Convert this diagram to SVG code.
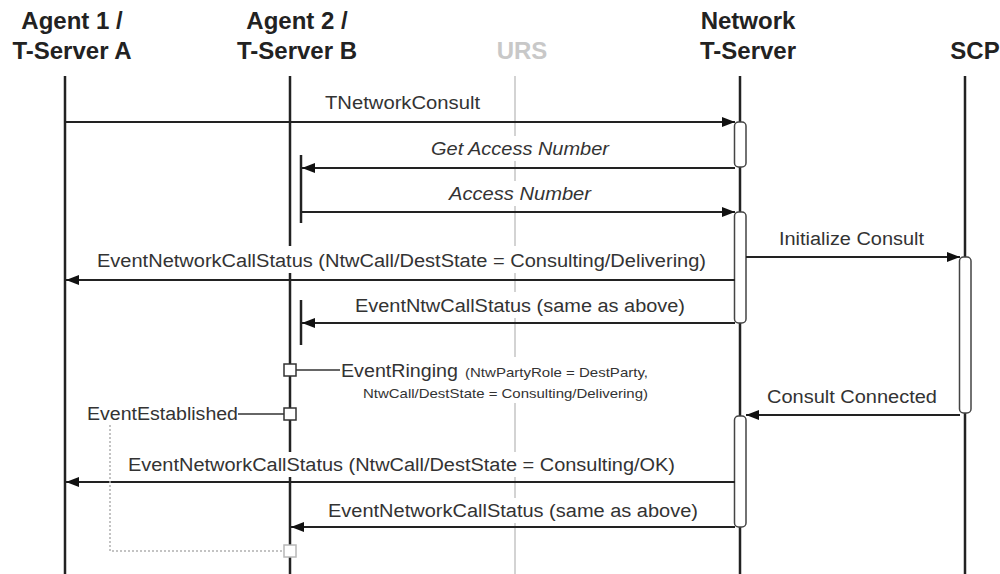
<svg xmlns="http://www.w3.org/2000/svg" width="1000" height="574" viewBox="0 0 1000 574">
<style>
.hdr{font-family:"Liberation Sans",Arial,sans-serif;font-weight:bold;font-size:24px;fill:#222;text-anchor:middle}
.urs{fill:#c8c8c8}
.life{stroke:#222;stroke-width:2.5;fill:none}
.lifeurs{stroke:#c4c4c4;stroke-width:1.5;fill:none}
.msg{font-family:"Liberation Sans",Arial,sans-serif;font-size:18px;fill:#333}
.it{font-style:italic}
.sm{font-family:"Liberation Sans",Arial,sans-serif;font-size:13px;fill:#333}
.arr{stroke:#222;stroke-width:2;fill:none;marker-end:url(#ah)}
.act{fill:#fff;stroke:#444;stroke-width:1.5}
.bar{stroke:#222;stroke-width:2.5}
.bg{fill:#fff}
.sq{fill:#fff;stroke:#333;stroke-width:1.5}
.ln{stroke:#333;stroke-width:1.5}
.dot{stroke:#b0b0b0;stroke-width:1.5;stroke-dasharray:2 2;fill:none}
</style>
<defs>
<marker id="ah" markerUnits="userSpaceOnUse" markerWidth="13" markerHeight="10" refX="13" refY="5" orient="auto">
<path d="M0,0 L13,5 L0,10 z" fill="#111"/>
</marker>
</defs>

<g id="agent1">
<text class="hdr" x="72" y="29">Agent 1 /</text>
<text class="hdr" x="72" y="59">T-Server A</text>
<line class="life" x1="65" y1="76" x2="65" y2="574"/>
</g>
<g id="agent2">
<text class="hdr" x="297" y="29">Agent 2 /</text>
<text class="hdr" x="297" y="59">T-Server B</text>
<line class="life" x1="290" y1="76" x2="290" y2="574"/>
</g>
<g id="urs">
<text class="hdr urs" x="522" y="59">URS</text>
<line class="lifeurs" x1="515" y1="76" x2="515" y2="574"/>
</g>
<g id="network">
<text class="hdr" x="748" y="29">Network</text>
<text class="hdr" x="748" y="59">T-Server</text>
<line class="life" x1="740" y1="76" x2="740" y2="574"/>
</g>
<g id="scp">
<text class="hdr" x="975" y="59">SCP</text>
<line class="life" x1="965" y1="76" x2="965" y2="574"/>
</g>

<g id="activations">
<rect class="act" x="734.5" y="122" width="11.5" height="45" rx="4"/>
<rect class="act" x="734.5" y="212" width="11.5" height="111" rx="4"/>
<rect class="act" x="734.5" y="416" width="11.5" height="111" rx="4"/>
<rect class="act" x="959.5" y="257" width="11.5" height="156" rx="4"/>
<line class="bar" x1="301" y1="155" x2="301" y2="223"/>
<line class="bar" x1="301" y1="300" x2="301" y2="345"/>
</g>

<g id="connectors">
<line class="arr" x1="65" y1="122" x2="735" y2="122"/>
<line class="arr" x1="735" y1="168" x2="302" y2="168"/>
<line class="arr" x1="302" y1="212" x2="735" y2="212"/>
<line class="arr" x1="746" y1="257" x2="960" y2="257"/>
<line class="arr" x1="735" y1="280" x2="66" y2="280"/>
<line class="arr" x1="735" y1="323" x2="302" y2="323"/>
<line class="arr" x1="960" y1="415" x2="746" y2="415"/>
<line class="arr" x1="735" y1="482" x2="66" y2="482"/>
<line class="arr" x1="735" y1="527" x2="291" y2="527"/>
</g>

<g id="labels">
<text class="msg" x="325" y="109" textLength="155" lengthAdjust="spacingAndGlyphs">TNetworkConsult</text>
<rect class="bg" x="428" y="136" width="184" height="25"/>
<text class="msg it" x="431" y="155" textLength="178" lengthAdjust="spacingAndGlyphs">Get Access Number</text>
<rect class="bg" x="446" y="181" width="148" height="25"/>
<text class="msg it" x="449" y="200" textLength="142" lengthAdjust="spacingAndGlyphs">Access Number</text>
<text class="msg" x="779" y="245" textLength="145" lengthAdjust="spacingAndGlyphs">Initialize Consult</text>
<rect class="bg" x="94" y="246" width="615" height="27"/>
<text class="msg" x="97" y="267" textLength="609" lengthAdjust="spacingAndGlyphs">EventNetworkCallStatus (NtwCall/DestState = Consulting/Delivering)</text>
<rect class="bg" x="352" y="292" width="336" height="26"/>
<text class="msg" x="355" y="312" textLength="330" lengthAdjust="spacingAndGlyphs">EventNtwCallStatus (same as above)</text>
<rect class="bg" x="338" y="357" width="314" height="46"/>
<text class="msg" x="341" y="377" textLength="117" lengthAdjust="spacingAndGlyphs">EventRinging</text>
<text class="sm" x="465" y="377" textLength="183" lengthAdjust="spacingAndGlyphs">(NtwPartyRole = DestParty,</text>
<text class="sm" x="363" y="398" textLength="285" lengthAdjust="spacingAndGlyphs">NtwCall/DestState = Consulting/Delivering)</text>
<text class="msg" x="767" y="403" textLength="170" lengthAdjust="spacingAndGlyphs">Consult Connected</text>
<text class="msg" x="87" y="420" textLength="151" lengthAdjust="spacingAndGlyphs">EventEstablished</text>
<rect class="bg" x="125" y="452" width="553" height="25"/>
<text class="msg" x="128" y="471" textLength="547" lengthAdjust="spacingAndGlyphs">EventNetworkCallStatus (NtwCall/DestState = Consulting/OK)</text>
<rect class="bg" x="325" y="498" width="376" height="25"/>
<text class="msg" x="328" y="517" textLength="370" lengthAdjust="spacingAndGlyphs">EventNetworkCallStatus (same as above)</text>
</g>

<g id="ringing">
<rect class="sq" x="284" y="364" width="12" height="12"/>
<line class="ln" x1="296" y1="370" x2="340" y2="370"/>
</g>
<g id="established">
<line class="ln" x1="238" y1="414" x2="284" y2="414"/>
<rect class="sq" x="284" y="408" width="12" height="12"/>
</g>
<g id="dotted">
<polyline class="dot" points="110,425 110,551 284,551"/>
<rect x="284" y="545" width="12" height="12" fill="#fff" stroke="#b8b8b8" stroke-width="1.5"/>
</g>
</svg>
